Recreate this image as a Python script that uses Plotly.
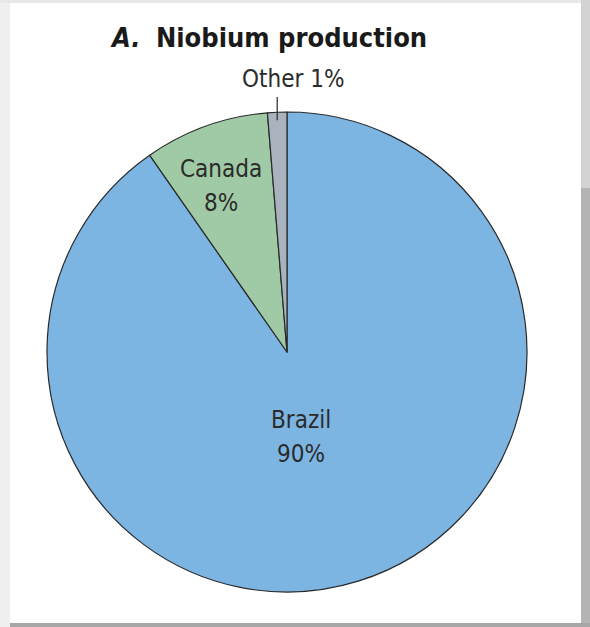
import math
import plotly.graph_objects as go

countries = ["Brazil", "Canada", "Other"]
shares = [90.3, 8.4, 1.3]
share_labels = ["90%", "8%", "1%"]
colors = ["#7cb4e2", "#9fcaa5", "#a8b3bd"]

W, H = 590, 627
cx, cy, R = 287, 352, 240  # pixel geometry of the pie

fig = go.Figure()
fig.add_trace(go.Pie(
    labels=countries, values=shares, sort=False, direction="clockwise", rotation=0,
    marker=dict(colors=colors, line=dict(color="#2a2a2a", width=1.2)),
    textinfo="none", hoverinfo="label+percent", showlegend=False,
    domain=dict(x=[(cx - R) / W, (cx + R) / W], y=[1 - (cy + R) / H, 1 - (cy - R) / H]),
))

# slice mid-angles derived from data
total = sum(shares)
cum = 0
mids = []
for v in shares:
    mids.append((cum + v / 2) / total * 2 * math.pi)
    cum += v

def pt(ang, r, dx=0, dy=0):
    x = cx + r * math.sin(ang) + dx
    y = cy - r * math.cos(ang) + dy
    return x / W, 1 - y / H

FAM = "DejaVu Sans Condensed, Liberation Sans Narrow, Arial Narrow"
font = dict(family=FAM, size=24, color="#2b2b2b")
annotations = []

def label(x, y, text):
    annotations.append(dict(x=x, y=y, text=text, xref="paper", yref="paper", showarrow=False,
                            font=font, xanchor="center", yanchor="middle"))

gap = 17 / H
# Brazil
bx, by = pt(mids[0], 0.30 * R, dx=-8, dy=16)
label(bx, by + gap, countries[0])
label(bx, by - gap, share_labels[0])
# Canada
kx, ky = pt(mids[1], 0.75 * R, dx=-5, dy=3)
label(kx, ky + gap, countries[1])
label(kx, ky - gap, share_labels[1])
# Other (outside)
ox, oy = pt(mids[2], 1.0 * R)
label(ox + 16 / W, oy + 33 / H, f"{countries[2]} {share_labels[2]}")

annotations.append(dict(
    xref="paper", yref="paper", x=268 / W, y=1 - 37 / H, showarrow=False,
    text="<b><i>A.</i></b>  <b>Niobium production</b>", xanchor="center", yanchor="middle",
    font=dict(family=FAM, size=27, color="#1a1a1a"),
))

shapes = [
    # leader line for Other
    dict(type="line", xref="paper", yref="paper", x0=ox, x1=ox, y0=1 - 97 / H, y1=oy - 8 / H,
         line=dict(color="#2a2a2a", width=1.2)),
    # frame strips
    dict(type="rect", xref="paper", yref="paper", x0=0, x1=10 / W, y0=0, y1=1, line_width=0, fillcolor="#efefef", layer="below"),
    dict(type="rect", xref="paper", yref="paper", x0=0, x1=1, y0=1 - 3 / H, y1=1, line_width=0, fillcolor="#e8e8e8", layer="below"),
    dict(type="rect", xref="paper", yref="paper", x0=581 / W, x1=1, y0=0, y1=1, line_width=0, fillcolor="#b4b4b4", layer="below"),
    dict(type="rect", xref="paper", yref="paper", x0=581 / W, x1=1, y0=0.7, y1=1, line_width=0, fillcolor="#d2d2d2", layer="below"),
    dict(type="rect", xref="paper", yref="paper", x0=10 / W, x1=1, y0=0, y1=4 / H, line_width=0, fillcolor="#a6a6a6", layer="below"),
]

fig.update_layout(
    width=W, height=H, margin=dict(l=0, r=0, t=0, b=0),
    paper_bgcolor="white", plot_bgcolor="white",
    annotations=annotations, shapes=shapes,
)
fig.write_html("out.html")
